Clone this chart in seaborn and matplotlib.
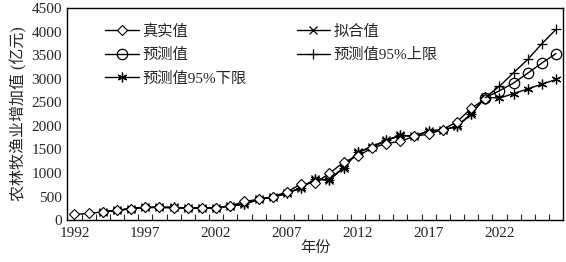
import matplotlib
matplotlib.use('Agg')
import matplotlib.pyplot as plt
import seaborn as sns
import numpy as np
import pandas as pd
from matplotlib.ticker import FixedLocator

sns.set_style('ticks')
plt.rcParams['font.family'] = ['Liberation Serif', 'Noto Sans CJK SC']
plt.rcParams['axes.unicode_minus'] = False

# 数据
real_years = list(range(1992, 2022))
real_vals = [120, 140, 175, 205, 240, 268, 268, 265, 250, 255, 262, 300, 395, 440, 495,
             600, 765, 790, 990, 1230, 1360, 1530, 1625, 1670, 1780, 1825, 1920, 2085, 2370, 2575]

fit_years = list(range(1994, 2022))
fit_vals = [175, 205, 245, 270, 270, 268, 252, 257, 265, 300, 340, 440, 490, 565,
            690, 865, 855, 1115, 1440, 1555, 1690, 1800, 1780, 1895, 1910, 1990, 2250, 2605]

future_years = list(range(2022, 2027))
pred_vals = [2600, 2745, 2910, 3120, 3335, 3535]   # 2021-2026
upper_future = [2840, 3130, 3410, 3745, 4050]
lower_future = [2590, 2685, 2785, 2885, 2985]

pred_years = [2021] + future_years
band_years = fit_years + future_years
upper_vals = fit_vals + upper_future
lower_vals = fit_vals + lower_future

fig = plt.figure(figsize=(5.66, 2.62), dpi=100)
ax = fig.add_axes([0.119, 0.160, 0.876, 0.809])

common = dict(color='black', linewidth=1.0, markeredgecolor='black', ax=ax)
sns.lineplot(x=band_years, y=upper_vals, marker='+', markersize=7,
             markeredgewidth=0.9, label='预测值95%上限', **common)
sns.lineplot(x=band_years, y=lower_vals, marker=(6, 2, 0), markersize=7,
             markeredgewidth=0.9, label='预测值95%下限', **common)
sns.lineplot(x=fit_years, y=fit_vals, marker='x', markersize=6,
             markeredgewidth=0.9, label='拟合值', **common)
sns.lineplot(x=real_years, y=real_vals, marker='D', markersize=5, markerfacecolor='white',
             markeredgewidth=0.8, label='真实值', **common)
sns.lineplot(x=pred_years, y=pred_vals, marker='o', markersize=7.5, markerfacecolor='none',
             markeredgewidth=0.9, label='预测值', **common)

handles, labels = ax.get_legend_handles_labels()
hd = dict(zip(labels, handles))
order = ['真实值', '预测值', '预测值95%下限', '拟合值', '预测值95%上限']
ax.legend([hd[k] for k in order], order, ncol=2, frameon=False, loc='upper left',
          bbox_to_anchor=(0.055, 0.975), fontsize=11, handlelength=2.2,
          columnspacing=3.3, labelspacing=0.62, handletextpad=0.2, borderpad=0.2)

ax.set_xlim(1991.5, 2026.5)
ax.set_ylim(0, 4500)
ax.set_yticks(np.arange(0, 4501, 500))
ax.set_xticks([1992, 1997, 2002, 2007, 2012, 2017, 2022])
ax.xaxis.set_minor_locator(FixedLocator(np.arange(1992.5, 2026.5, 1)))
ax.tick_params(axis='x', which='major', length=0, labelsize=11, pad=5)
ax.tick_params(axis='x', which='minor', direction='in', length=4, width=0.8)
ax.tick_params(axis='y', which='major', length=0, labelsize=11, pad=4)
for s in ax.spines.values():
    s.set_linewidth(1.0)
    s.set_color('black')

ax.set_xlabel('年份', fontsize=11, labelpad=1)
ax.set_ylabel('农林牧渔业增加值 (亿元)', fontsize=11.5, labelpad=3)

fig.savefig('out.png', dpi=100)
